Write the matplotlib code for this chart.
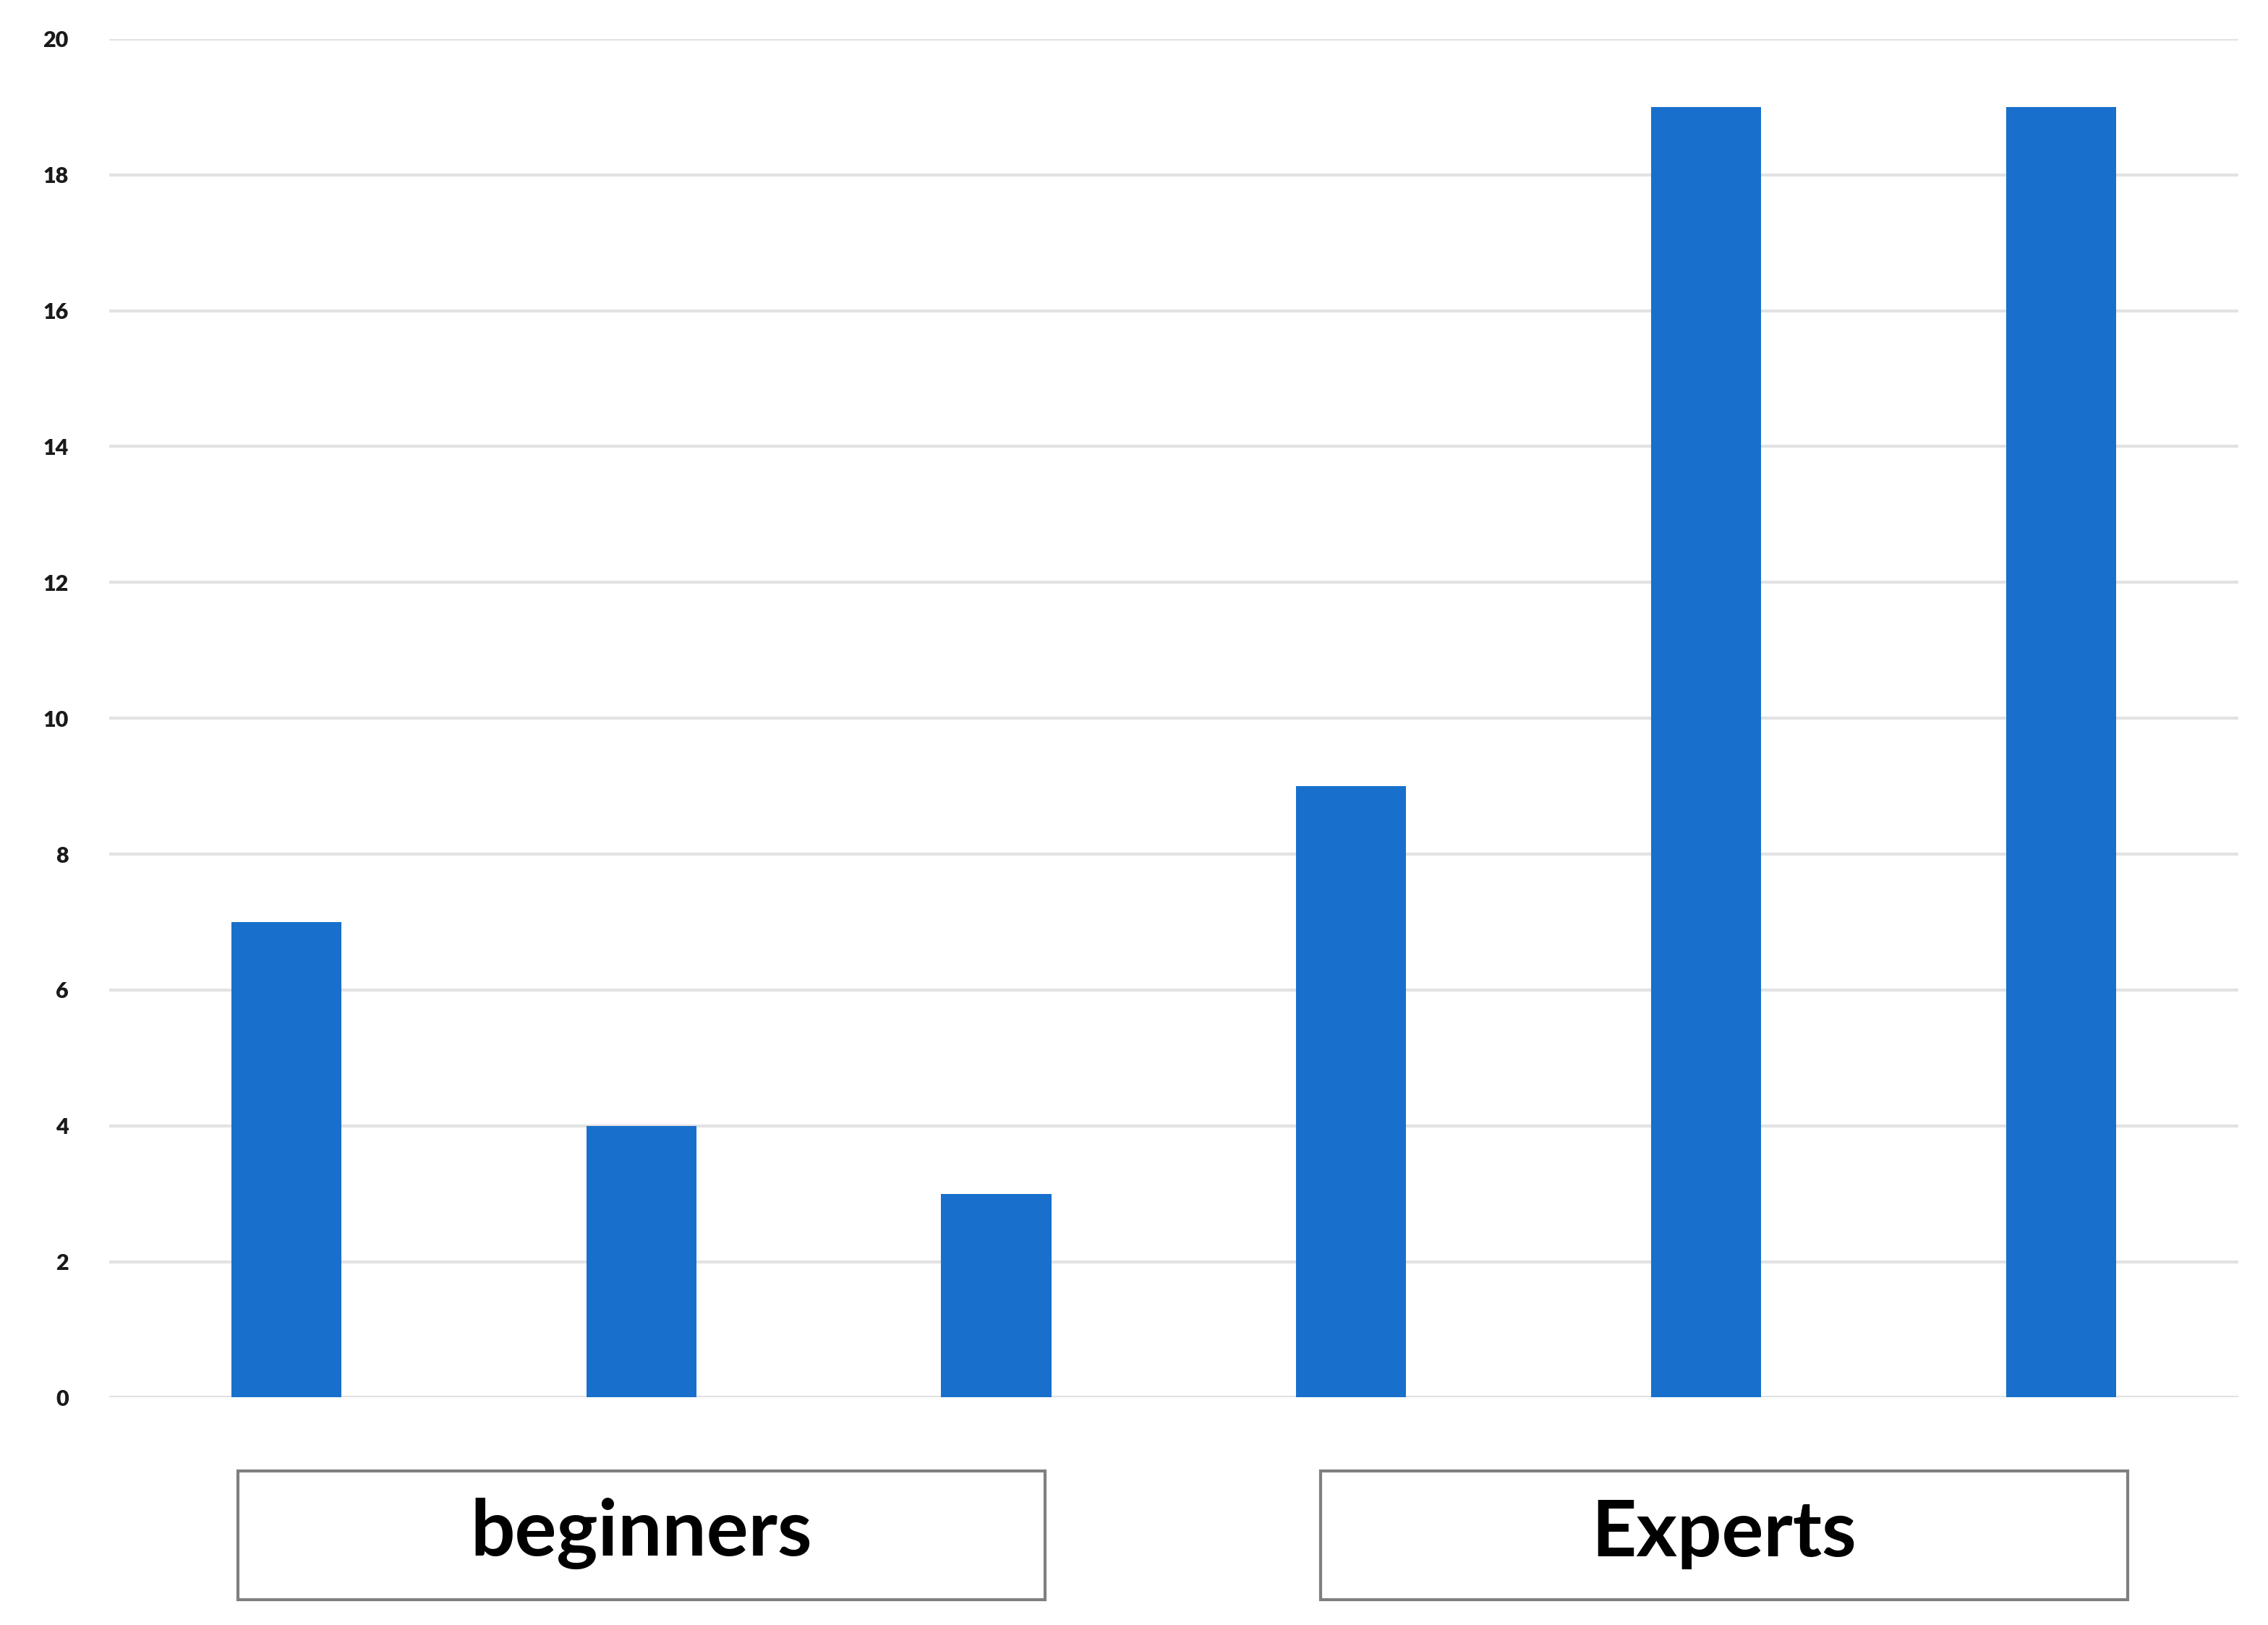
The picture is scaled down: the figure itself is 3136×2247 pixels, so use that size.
import matplotlib
matplotlib.use("Agg")
import matplotlib.pyplot as plt
import matplotlib.transforms as mtransforms
from matplotlib.patches import Rectangle
import numpy as np

# values
values = [7, 4, 3, 9, 19, 19]
groups = ["beginners", "Experts"]
group_members = [[0, 1, 2], [3, 4, 5]]
yticks = [0, 2, 4, 6, 8, 10, 12, 14, 16, 18, 20]

BAR_COLOR = "#1870CC"
GRID_COLOR = "#e2e2e2"
# boxes are not exactly centred on their bars in the original
box_shift = [0.0, 0.05]

plt.rcParams['font.family'] = ['Lato', 'DejaVu Sans']

fig = plt.figure(figsize=(31.36, 22.47), dpi=100)
ax = fig.add_axes([0.048, 0.140, 0.939, 0.836])

x = np.arange(len(values))
ax.bar(x, values, width=0.31, color=BAR_COLOR, zorder=3)

ax.set_xlim(-0.5, len(values) - 0.5)
ax.set_ylim(0, 20)
ax.set_yticks(yticks)
ax.set_xticks([])
ax.yaxis.grid(True, color=GRID_COLOR, linewidth=3, zorder=0)
for s in ax.spines.values():
    s.set_visible(False)
ax.tick_params(axis='y', length=0, pad=40, labelsize=22, labelcolor="#1a1a1a")
for lab in ax.get_yticklabels():
    lab.set_fontweight('heavy')

# group label boxes under the bars
trans = mtransforms.blended_transform_factory(ax.transData, fig.transFigure)
box_bottom, box_top = 0.0156, 0.0948
half_w = 1.137
for name, members, dx in zip(groups, group_members, box_shift):
    cx = np.mean(members) + dx
    rect = Rectangle((cx - half_w, box_bottom), 2 * half_w, box_top - box_bottom,
                     transform=trans, facecolor="white", edgecolor="#7f7f7f",
                     linewidth=3, clip_on=False)
    ax.add_patch(rect)
    ax.text(cx, (box_bottom + box_top) / 2 + 0.001, name, transform=trans,
            ha='center', va='center', fontsize=78, fontweight='bold', color="black")

fig.savefig("out.png", dpi=100, facecolor="white")
